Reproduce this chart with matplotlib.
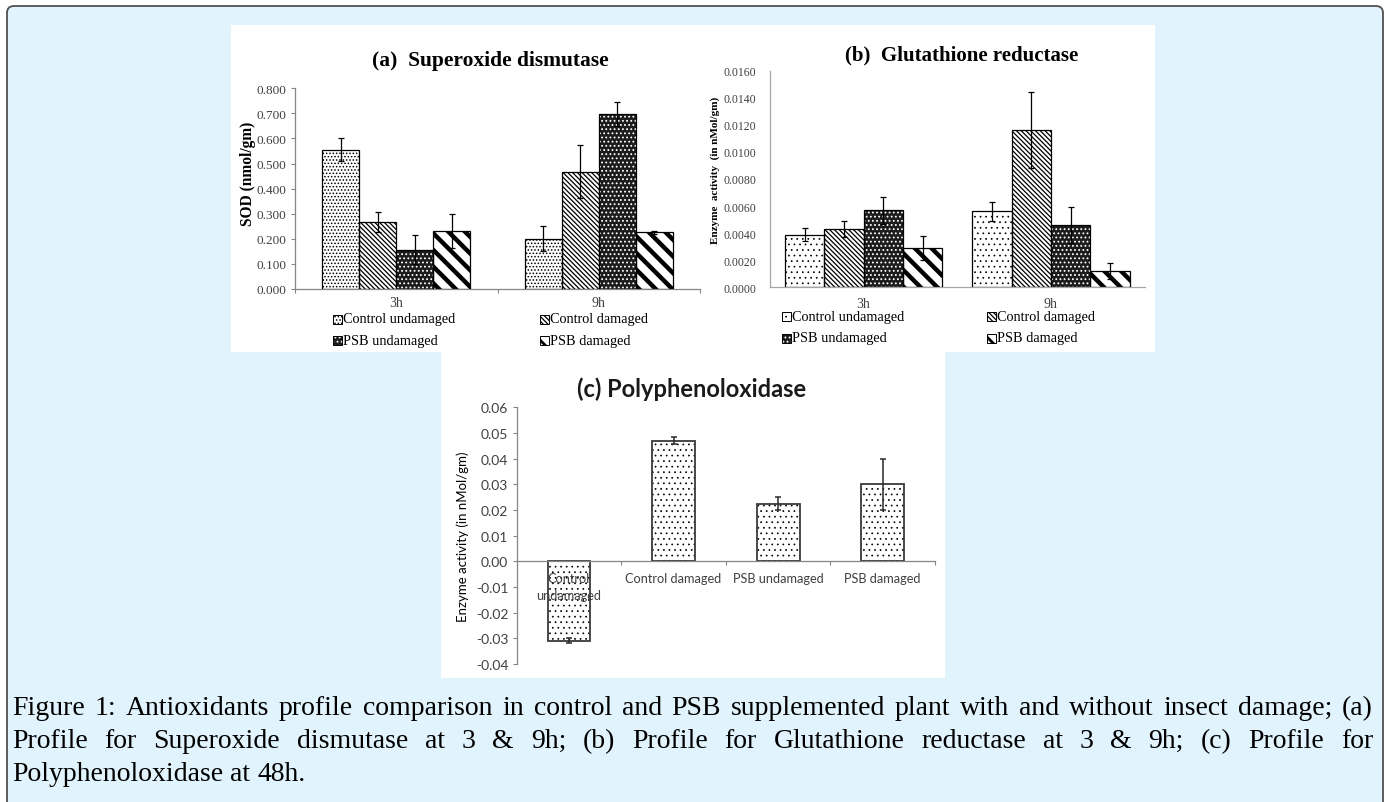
import matplotlib
matplotlib.use('Agg')
import numpy as np
import matplotlib.pyplot as plt
from matplotlib.patches import Rectangle, FancyBboxPatch
from matplotlib.transforms import IdentityTransform

# ---- data ----
groups = ['3h', '9h']
series = ['Control undamaged', 'Control damaged', 'PSB undamaged', 'PSB damaged']

# (a) Superoxide dismutase, nmol/gm
sod_cu = [0.555, 0.200]
sod_cd = [0.266, 0.468]
sod_pu = [0.157, 0.697]
sod_pd = [0.230, 0.226]
sod_cu_err = [0.045, 0.050]
sod_cd_err = [0.040, 0.104]
sod_pu_err = [0.058, 0.048]
sod_pd_err = [0.068, 0.006]

# (b) Glutathione reductase, nMol/gm
gr_cu = [0.0039, 0.0056]
gr_cd = [0.0043, 0.0116]
gr_pu = [0.0057, 0.0046]
gr_pd = [0.0029, 0.0012]
gr_cu_err = [0.0005, 0.0007]
gr_cd_err = [0.0006, 0.0028]
gr_pu_err = [0.0010, 0.0013]
gr_pd_err = [0.0009, 0.0006]

# (c) Polyphenoloxidase at 48h
ppo_labels = ['Control\nundamaged', 'Control damaged', 'PSB undamaged', 'PSB damaged']
ppo = [-0.031, 0.047, 0.0225, 0.030]
ppo_err = [0.001, 0.0014, 0.0026, 0.010]

caption = [
    "Figure 1: Antioxidants profile comparison in control and PSB supplemented plant with and without insect damage; (a)",
    "Profile for Superoxide dismutase at 3 & 9h; (b) Profile for Glutathione reductase at 3 & 9h; (c) Profile for",
    "Polyphenoloxidase at 48h.",
]

W, H = 1387, 803
SERIF = 'Liberation Serif'
SANS = 'Lato'

fig = plt.figure(figsize=(W / 100, H / 100), dpi=100)
px = IdentityTransform()


def box(x0, y0, x1, y1):
    # pixel box (y from top) -> figure fraction rect
    return [x0 / W, 1 - y1 / H, (x1 - x0) / W, (y1 - y0) / H]


def hlw(p, lw):
    if hasattr(p, 'set_hatch_linewidth'):
        p.set_hatch_linewidth(lw)


# background frame and white panels
fig.add_artist(FancyBboxPatch((7, -30), 1376, H - 7 + 30, boxstyle='round,pad=0,rounding_size=7',
                              transform=px, facecolor='#e1f3fd', edgecolor='#505050', lw=1.3, zorder=-3))
fig.add_artist(Rectangle((231, H - 353), 1155 - 231, 353 - 26, transform=px,
                         facecolor='white', edgecolor='none', zorder=-2))
fig.add_artist(Rectangle((441, H - 679), 945 - 441, 679 - 353, transform=px,
                         facecolor='white', edgecolor='none', zorder=-2))


def styles(dense):
    dots = '.' * (5 if dense else 3)
    return [
        dict(facecolor='white', edgecolor='black', hatch=dots, hl=0.7 if dense else 0.5),
        dict(facecolor='white', edgecolor='black', hatch='\\' * 7, hl=0.9),
        dict(facecolor='#1c1c1c', edgecolor='white', hatch='.' * 4, hl=0.8),
        dict(facecolor='white', edgecolor='black', hatch='\\' * 2, hl=3.2),
    ]


def grouped(ax, vals, errs, sty, w):
    x = np.arange(len(groups))
    for i, (v, e, s) in enumerate(zip(vals, errs, sty)):
        xi = x + (i - 1.5) * w
        bars = ax.bar(xi, v, width=w, facecolor=s['facecolor'], edgecolor=s['edgecolor'],
                      hatch=s['hatch'], lw=0, zorder=2)
        for b in bars:
            hlw(b, s['hl'])
        ax.bar(xi, v, width=w, facecolor='none', edgecolor='black', lw=0.9, zorder=3)
        ax.errorbar(xi, v, yerr=e, fmt='none', ecolor='black', elinewidth=0.9,
                    capsize=2.5, capthick=0.9, zorder=4)


def legend(x_cols, y_rows, sty, fs):
    order = [(0, 0), (1, 0), (0, 1), (1, 1)]
    for (c, r), name, s in zip(order, series, sty):
        x, y = x_cols[c], y_rows[r]
        p = Rectangle((x, H - y - 4.5), 9, 9, transform=px, facecolor=s['facecolor'],
                      edgecolor=s['edgecolor'], hatch=s['hatch'], lw=0)
        hlw(p, min(s['hl'], 2.0))
        fig.add_artist(p)
        fig.add_artist(Rectangle((x, H - y - 4.5), 9, 9, transform=px, facecolor='none',
                                 edgecolor='black', lw=0.7))
        fig.text((x + 10) / W, 1 - y / H, name, family=SERIF, fontsize=fs, va='center', ha='left')


def style_axes(ax, color):
    for s in ['top', 'right']:
        ax.spines[s].set_visible(False)
    for s in ['left', 'bottom']:
        ax.spines[s].set_color(color)
        ax.spines[s].set_linewidth(0.9)
    ax.set_facecolor('none')


# ---- (a) ----
axa = fig.add_axes(box(295, 89.3, 700, 290))
sty_a = styles(True)
grouped(axa, [sod_cu, sod_cd, sod_pu, sod_pd], [sod_cu_err, sod_cd_err, sod_pu_err, sod_pd_err], sty_a, 0.183)
axa.set_xlim(-0.5, 1.5)
axa.set_ylim(0, 0.8)
style_axes(axa, '#868686')
axa.set_yticks(np.arange(0, 0.81, 0.1))
axa.set_yticklabels(['%.3f' % v for v in np.arange(0, 0.81, 0.1)])
axa.tick_params(axis='y', direction='out', length=3, color='#868686', pad=3,
                labelsize=9.5, labelcolor='#404040')
axa.set_xticks([-0.5, 0.5, 1.5])
axa.set_xticklabels([])
axa.tick_params(axis='x', which='major', length=3, color='#868686')
axa.set_xticks([0, 1], minor=True)
axa.set_xticklabels(groups, minor=True)
axa.tick_params(axis='x', which='minor', length=0, pad=5, labelsize=10, labelcolor='#404040')
for t in axa.get_yticklabels() + axa.get_xticklabels(minor=True):
    t.set_family(SERIF)
fig.text(490 / W, 1 - 61 / H, '(a)  Superoxide dismutase', family=SERIF, fontsize=15.5,
         fontweight='bold', ha='center', va='center')
fig.text(248 / W, 1 - 174 / H, 'SOD (nmol/gm)', family=SERIF, fontsize=11.2, fontweight='bold',
         rotation=90, ha='center', va='center')
legend([333, 540], [320, 341.5], sty_a, 10.3)

# ---- (b) ----
axb = fig.add_axes(box(770, 71.7, 1144.5, 288.3))
sty_b = styles(False)
grouped(axb, [gr_cu, gr_cd, gr_pu, gr_pd], [gr_cu_err, gr_cd_err, gr_pu_err, gr_pd_err], sty_b, 0.21)
axb.set_xlim(-0.5, 1.5)
axb.set_ylim(0, 0.016)
style_axes(axb, '#a6a6a6')
yb = np.arange(0, 0.01601, 0.002)
axb.set_yticks(yb)
axb.set_yticklabels(['%.4f' % v for v in yb])
axb.tick_params(axis='y', length=0, pad=10, labelsize=8.5, labelcolor='#404040')
axb.set_xticks([0, 1])
axb.set_xticklabels(groups)
axb.tick_params(axis='x', length=0, pad=7, labelsize=10, labelcolor='#404040')
for t in axb.get_yticklabels() + axb.get_xticklabels():
    t.set_family(SERIF)
fig.text(962 / W, 1 - 55 / H, '(b)  Glutathione reductase', family=SERIF, fontsize=15,
         fontweight='bold', ha='center', va='center')
fig.text(715 / W, 1 - 170 / H, 'Enzyme  activity  (in nMol/gm)', family=SERIF, fontsize=8,
         fontweight='bold', rotation=90, ha='center', va='center')
legend([781.5, 987], [317, 339], sty_b, 10.3)

# ---- (c) ----
axc = fig.add_axes(box(516.7, 408.3, 935, 665))
axc.set_axisbelow(False)
xc = np.arange(len(ppo))
bars = axc.bar(xc, ppo, width=0.41, facecolor='white', edgecolor='black', hatch='...', lw=0, zorder=1)
for b in bars:
    hlw(b, 0.5)
axc.bar(xc, ppo, width=0.41, facecolor='none', edgecolor='#3a3a3a', lw=1.3, zorder=1.2)
axc.errorbar(xc, ppo, yerr=ppo_err, fmt='none', ecolor='#2a2a2a', elinewidth=1.1,
             capsize=2.5, capthick=1.1, zorder=1.4)
axc.set_xlim(-0.5, 3.5)
axc.set_ylim(-0.04, 0.06)
style_axes(axc, '#868686')
axc.spines['bottom'].set_position(('data', 0))
yc = np.arange(-0.04, 0.0601, 0.01)
axc.set_yticks(yc)
axc.set_yticklabels(['%.2f' % v if abs(v) > 1e-9 else '0.00' for v in yc])
axc.tick_params(axis='y', direction='out', length=3, color='#868686', pad=3,
                labelsize=10, labelcolor='#404040')
axc.set_xticks([0.5, 1.5, 2.5, 3.5])
axc.set_xticklabels([])
axc.tick_params(axis='x', which='major', length=3, color='#868686')
axc.set_xticks(xc, minor=True)
axc.set_xticklabels(ppo_labels, minor=True)
axc.tick_params(axis='x', which='minor', length=0, pad=8, labelsize=9.2, labelcolor='#404040')
for t in axc.get_yticklabels() + axc.get_xticklabels(minor=True):
    t.set_family(SANS)
    t.set_linespacing(1.45)
fig.text(692 / W, 1 - 389 / H, '(c) Polyphenoloxidase', family=SANS, fontsize=17,
         fontweight='bold', color='#1a1a1a', ha='center', va='center')
fig.text(463 / W, 1 - 537 / H, 'Enzyme activity (in nMol/gm)', family=SANS, fontsize=9.5,
         rotation=90, ha='center', va='center')

# ---- caption, justified ----
renderer = fig.canvas.get_renderer()
cap_fs = 20
x0, x1 = 12, 1373
for k, (line, yb_) in enumerate(zip(caption, [715, 748, 781])):
    words = line.split(' ')
    texts = [fig.text(0, 0, w, family=SERIF, fontsize=cap_fs, ha='left', va='baseline') for w in words]
    widths = [t.get_window_extent(renderer).width for t in texts]
    space = renderer.points_to_pixels(cap_fs) * 0.25
    if k < len(caption) - 1:
        gap = (x1 - x0 - sum(widths)) / (len(words) - 1)
    else:
        gap = space
    x = x0
    for t, w in zip(texts, widths):
        t.set_position((x / W, 1 - yb_ / H))
        x += w + gap

fig.savefig('out.png', dpi=100)
